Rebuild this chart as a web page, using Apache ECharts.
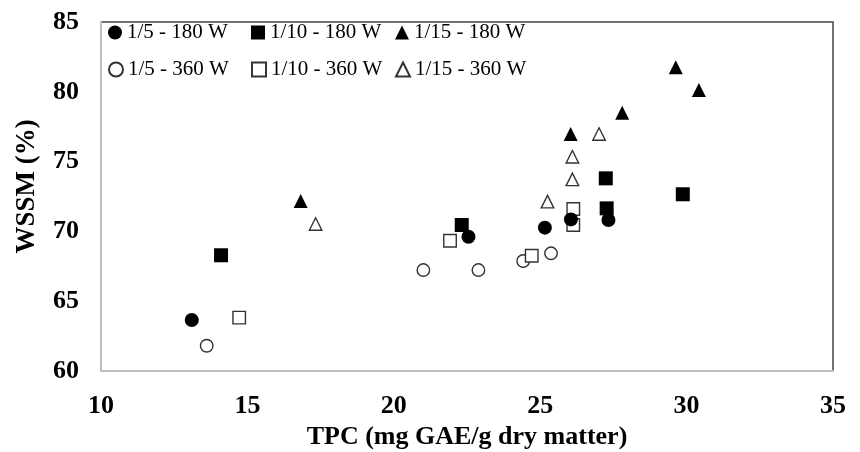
<!DOCTYPE html>
<html>
<head>
<meta charset="utf-8">
<script src="https://cdn.jsdelivr.net/npm/echarts@6/dist/echarts.min.js"></script>
<style>
  html, body { margin: 0; padding: 0; background: #fff; }
  #chart { width: 860px; height: 452px; }
</style>
</head>
<body>
<div id="chart"></div>
<script>
// Series names (legend)
var seriesNames = ['1/5 - 180 W', '1/10 - 180 W', '1/15 - 180 W', '1/5 - 360 W', '1/10 - 360 W', '1/15 - 360 W'];

// TPC (x) and WSSM (y) values per series
var tpc_1_5_180  = [13.10, 22.55, 25.16, 26.05, 27.33];
var wssm_1_5_180 = [63.65, 69.62, 70.27, 70.86, 70.82];

var tpc_1_10_180  = [14.10, 22.32, 27.24, 27.27, 29.87];
var wssm_1_10_180 = [68.29, 70.46, 73.80, 71.65, 72.66];

var tpc_1_15_180  = [16.82, 26.04, 27.80, 29.63, 30.42];
var wssm_1_15_180 = [72.18, 76.98, 78.50, 81.75, 80.13];

var tpc_1_5_360  = [13.61, 21.01, 22.89, 24.42, 25.37];
var wssm_1_5_360 = [61.81, 67.23, 67.23, 67.88, 68.43];

var tpc_1_10_360  = [14.72, 21.92, 24.71, 26.13, 26.13];
var wssm_1_10_360 = [63.82, 69.33, 68.26, 71.60, 70.46];

var tpc_1_15_360  = [17.33, 25.25, 26.10, 26.10, 27.01];
var wssm_1_15_360 = [70.53, 72.13, 73.73, 75.35, 76.98];

// Axis ticks
var xTicks = [10, 15, 20, 25, 30, 35];
var yTicks = [60, 65, 70, 75, 80, 85];

function pairs(xs, ys) {
  return xs.map(function (x, i) { return [x, ys[i]]; });
}

var seriesX = [tpc_1_5_180, tpc_1_10_180, tpc_1_15_180, tpc_1_5_360, tpc_1_10_360, tpc_1_15_360];
var seriesY = [wssm_1_5_180, wssm_1_10_180, wssm_1_15_180, wssm_1_5_360, wssm_1_10_360, wssm_1_15_360];
var symbols = ['circle', 'rect', 'triangle', 'circle', 'rect', 'triangle'];
var filled = [true, true, true, false, false, false];

var series = seriesNames.map(function (name, i) {
  return {
    name: name,
    type: 'scatter',
    symbol: symbols[i],
    symbolSize: filled[i] ? 14 : 12.5,
    data: pairs(seriesX[i], seriesY[i]),
    itemStyle: filled[i]
      ? { color: '#000', borderColor: '#000', borderWidth: 0, opacity: 1 }
      : { color: '#fff', borderColor: '#333', borderWidth: 1.4, opacity: 1 },
    emphasis: { disabled: true },
    z: filled[i] ? 3 : 2
  };
});

var legendPos = [
  { left: 108, top: 22 }, { left: 251, top: 22 }, { left: 395, top: 22 },
  { left: 108, top: 59 }, { left: 251, top: 59 }, { left: 395, top: 59 }
];

var legends = seriesNames.map(function (name, i) {
  return {
    data: [name],
    left: legendPos[i].left,
    top: legendPos[i].top,
    padding: 0,
    itemWidth: 14,
    itemHeight: 14,
    selectedMode: false,
    textStyle: { fontFamily: 'Liberation Serif', fontSize: 21, color: '#000' }
  };
});

var chart = echarts.init(document.getElementById('chart'), null, { renderer: 'canvas' });
chart.setOption({
  animation: false,
  backgroundColor: '#fff',
  legend: legends,
  grid: {
    left: 101, right: 27, top: 22, bottom: 81,
    outerBoundsMode: 'none',
    containLabel: false,
    show: true, borderColor: '#444', borderWidth: 1.5, backgroundColor: 'transparent'
  },
  xAxis: {
    type: 'value',
    min: xTicks[0], max: xTicks[xTicks.length - 1], interval: 5,
    name: 'TPC (mg GAE/g dry matter)',
    nameLocation: 'middle',
    nameGap: 49,
    nameTextStyle: { fontFamily: 'Liberation Serif', fontWeight: 'bold', fontSize: 26, color: '#000' },
    axisLine: { show: true, lineStyle: { color: '#c0c0c0', width: 2 } },
    axisTick: { show: false },
    splitLine: { show: false },
    axisLabel: { fontFamily: 'Liberation Serif', fontWeight: 'bold', fontSize: 26, color: '#000', margin: 22 }
  },
  yAxis: {
    type: 'value',
    min: yTicks[0], max: yTicks[yTicks.length - 1], interval: 5,
    name: 'WSSM (%)',
    nameLocation: 'middle',
    nameGap: 60,
    nameTextStyle: { fontFamily: 'Liberation Serif', fontWeight: 'bold', fontSize: 27, color: '#000', padding: [0, 0, 0, 20] },
    axisLine: { show: true, lineStyle: { color: '#c0c0c0', width: 2 } },
    axisTick: { show: false },
    splitLine: { show: false },
    axisLabel: { fontFamily: 'Liberation Serif', fontWeight: 'bold', fontSize: 26, color: '#000', margin: 22 }
  },
  series: series
});
</script>
</body>
</html>
